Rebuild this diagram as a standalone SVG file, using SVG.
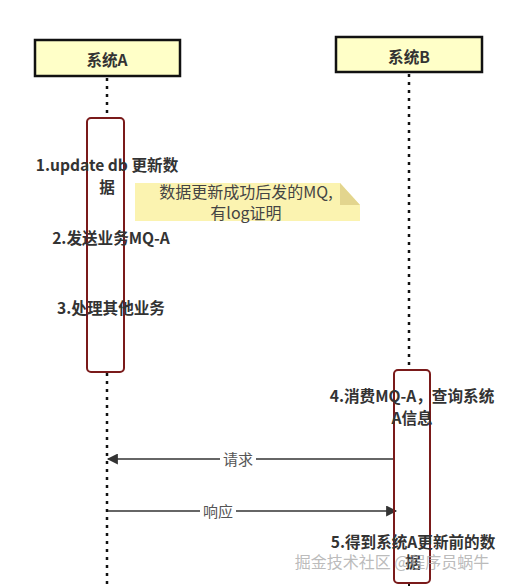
<svg xmlns="http://www.w3.org/2000/svg" width="507" height="586" viewBox="0 0 507 586">
<style>
.head{fill:#ffffc8;stroke:#111;stroke-width:2.5}
.life{stroke:#111;stroke-width:2.5;stroke-dasharray:3 5;fill:none}
.act{fill:none;stroke:#7a1a1a;stroke-width:2}
.t{font-family:"Noto Sans CJK SC","Microsoft YaHei",sans-serif;font-weight:bold;font-size:15.6px;fill:#333;text-anchor:middle}
.n{font-family:"Noto Sans CJK SC",sans-serif;font-size:16px;fill:#444;text-anchor:middle}
.lb{font-family:"Noto Sans CJK SC",sans-serif;font-size:15px;fill:#555;text-anchor:middle}
.msg{stroke:#333;stroke-width:1.5;fill:none}
.wm{font-family:"Noto Sans CJK SC",sans-serif;font-size:16px;fill:#aaa;fill-opacity:0.8;text-anchor:middle}
</style>
<defs>
<marker id="ah" viewBox="0 0 10 10" refX="9" refY="5" markerWidth="12" markerHeight="11" markerUnits="userSpaceOnUse" orient="auto"><path d="M0,0 L10,5 L0,10 z" fill="#333"/></marker>
</defs>
<g id="connectors">
<line class="life" x1="107" y1="78" x2="107" y2="118"/>
<line class="life" x1="107" y1="373" x2="107" y2="586"/>
<line class="life" x1="409" y1="74" x2="409" y2="369"/>
<line x1="409" y1="583" x2="409" y2="586" stroke="#111" stroke-width="2"/>
<line class="msg" x1="394" y1="459" x2="108" y2="459" marker-end="url(#ah)"/>
<rect x="220" y="450" width="36" height="18" fill="#fff"/>
<text class="lb" x="238" y="465">请求</text>
<line class="msg" x1="108" y1="511" x2="396" y2="511" marker-end="url(#ah)"/>
<rect x="200" y="502" width="36" height="18" fill="#fff"/>
<text class="lb" x="218" y="517">响应</text>
</g>
<g id="systemA">
<rect class="head" x="35" y="40" width="145" height="36"/>
<text class="t" x="107" y="66">系统A</text>
</g>
<g id="systemB">
<rect class="head" x="336" y="37" width="146" height="35"/>
<text class="t" x="409" y="63">系统B</text>
</g>
<g id="activationA">
<rect class="act" x="87" y="118" width="37" height="254" rx="4"/>
</g>
<g id="activationB">
<rect class="act" x="394" y="370" width="36" height="213" rx="4"/>
</g>
<g id="step1">
<text class="t" x="107" y="171">1.update db 更新数</text>
<text class="t" x="107" y="193">据</text>
</g>
<g id="note">
<path d="M135,183 H340 L360,205 V221 H135 Z" fill="#fbf3b0"/>
<path d="M340,183 L360,205 H340 Z" fill="#e3d58e"/>
<text class="n" x="246" y="198">数据更新成功后发的MQ,</text>
<text class="n" x="246" y="219">有log证明</text>
</g>
<g id="step2">
<text class="t" x="111" y="244">2.发送业务MQ-A</text>
</g>
<g id="step3">
<text class="t" x="111" y="314">3.处理其他业务</text>
</g>
<g id="step4">
<text class="t" x="412" y="402">4.消费MQ-A，查询系统</text>
<text class="t" x="412" y="424">A信息</text>
</g>
<g id="step5">
<text class="t" x="413" y="548">5.得到系统A更新前的数</text>
<text class="t" x="413" y="568">据</text>
</g>
<text class="wm" x="392" y="568">掘金技术社区 @程序员蜗牛</text>
</svg>
